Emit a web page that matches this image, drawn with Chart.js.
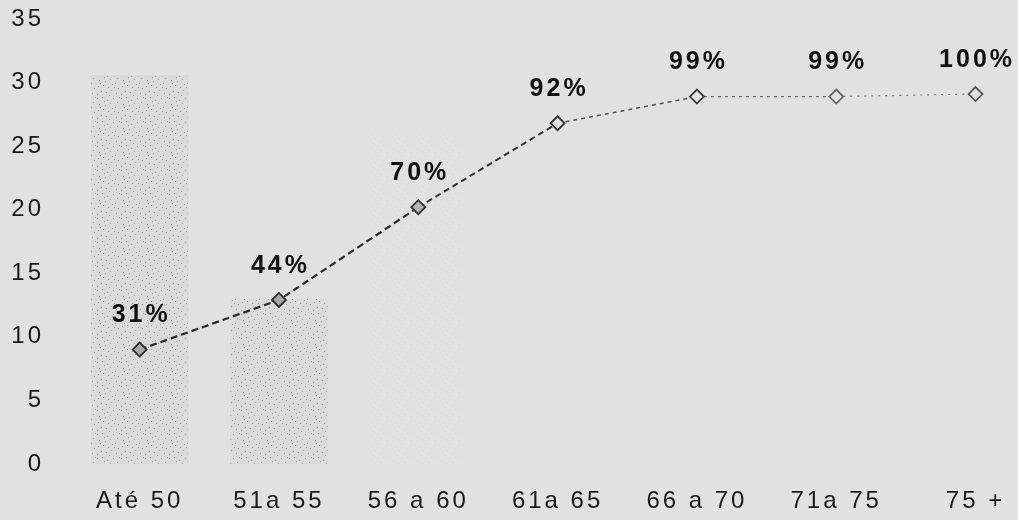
<!DOCTYPE html>
<html>
<head>
<meta charset="utf-8">
<script src="https://cdn.jsdelivr.net/npm/chart.js@4"></script>
<style>
    html, body { margin: 0; padding: 0; background: #e1e1e1; overflow: hidden; }
    #wrap { width: 1054px; height: 520px; }
</style>
</head>
<body>
<div id="wrap"><canvas id="chart" width="1054" height="520"></canvas></div>
<script>
// categories and values
const categories = ['Até 50', '51a 55', '56 a 60', '61a 65', '66 a 70', '71a 75', '75 +'];
const barValues = [30.6, 13, 26, 22, 7, 0, 1];
const lineValues = [9.0, 12.9, 20.2, 26.8, 28.9, 28.9, 29.1];
const pctLabels = ['31%', '44%', '70%', '92%', '99%', '99%', '100%'];
const yTicks = [0, 5, 10, 15, 20, 25, 30, 35];

// styles (line fades to the right, like the scan)
const segColors = ['#2a2a2a', '#2a2a2a', '#333333', '#555555', '#6a6a6a', '#7a7a7a'];
const segDashes = [[7, 4], [7, 4], [6, 4], [4, 4], [3, 4], [2, 5]];
const segWidths = [2.2, 2.2, 2, 1.6, 1.3, 1.2];
const pointFills = ['#a8a8a8', '#a8a8a8', '#b4b4b4', '#e1e1e1', '#e1e1e1', '#e1e1e1', '#e1e1e1'];
const pointBorders = ['#2a2a2a', '#2a2a2a', '#333333', '#333333', '#3a3a3a', '#666666', '#555555'];

// stippled fill for the bars
function makeStipple(base, dot, alpha) {
    const c = document.createElement('canvas');
    c.width = 24;
    c.height = 24;
    const g = c.getContext('2d');
    if (base) {
        g.fillStyle = base;
        g.fillRect(0, 0, 24, 24);
    }
    g.globalAlpha = alpha;
    g.fillStyle = dot;
    const dots = [[1,2],[6,1],[11,4],[17,2],[21,6],[3,8],[9,9],[14,7],[19,11],[2,14],
                  [7,13],[12,15],[16,12],[22,16],[5,19],[10,20],[15,18],[20,21],[1,22],[13,23],
                  [8,5],[18,15],[4,11],[23,1]];
    dots.forEach(d => g.fillRect(d[0], d[1], 1, 1));
    return g.createPattern(c, 'repeat');
}

const ctx = document.getElementById('chart').getContext('2d');
const strong = makeStipple('#dadada', '#8a8a8a', 0.7);
const faint = makeStipple(null, '#8a8a8a', 0.12);
const hidden = 'rgba(225,225,225,0)';
const barFills = [strong, strong, faint, hidden, hidden, hidden, hidden];

const spacing = {
    id: 'spacing',
    beforeUpdate(chart) { chart.ctx.letterSpacing = '3px'; },
    beforeDraw(chart) { chart.ctx.letterSpacing = '3px'; }
};

const pctPlugin = {
    id: 'pctPlugin',
    afterDatasetsDraw(chart) {
        const meta = chart.getDatasetMeta(1);
        const c = chart.ctx;
        c.save();
        c.letterSpacing = '3px';
        c.font = 'bold 25px "Liberation Sans", Arial, sans-serif';
        c.fillStyle = '#111111';
        c.textAlign = 'center';
        c.textBaseline = 'middle';
        meta.data.forEach((pt, i) => {
            c.fillText(pctLabels[i], pt.x + 1.5, pt.y - 34);
        });
        c.restore();
    }
};

new Chart(ctx, {
    data: {
        labels: categories,
        datasets: [{
            type: 'bar',
            data: barValues,
            backgroundColor: barFills,
            borderWidth: 0,
            categoryPercentage: 1,
            barPercentage: 0.7,
            order: 2
        }, {
            type: 'line',
            data: lineValues,
            borderColor: '#2a2a2a',
            borderWidth: 2,
            fill: false,
            tension: 0,
            pointStyle: 'rectRot',
            pointRadius: 7,
            pointBorderWidth: 1.8,
            pointBackgroundColor: pointFills,
            pointBorderColor: pointBorders,
            segment: {
                borderColor: c => segColors[c.p0DataIndex],
                borderDash: c => segDashes[c.p0DataIndex],
                borderWidth: c => segWidths[c.p0DataIndex]
            },
            order: 1
        }]
    },
    options: {
        responsive: false,
        animation: false,
        layout: { padding: { top: 19, left: 0, right: 0, bottom: 0 } },
        plugins: {
            legend: { display: false },
            tooltip: { enabled: false }
        },
        scales: {
            x: {
                offset: true,
                grid: { display: false, drawTicks: false },
                border: { display: false },
                ticks: {
                    color: '#1a1a1a',
                    padding: 23,
                    maxRotation: 0,
                    autoSkip: false,
                    font: { family: '"Liberation Sans", Arial, sans-serif', size: 24 }
                },
                afterFit(scale) {
                    scale.height = 56;
                    scale.paddingLeft = 0;
                    scale.paddingRight = 0;
                }
            },
            y: {
                min: 0,
                max: 35,
                afterBuildTicks(scale) { scale.ticks = yTicks.map(v => ({ value: v })); },
                grid: { display: false, drawTicks: false },
                border: { display: false },
                ticks: {
                    color: '#1a1a1a',
                    padding: 26,
                    font: { family: '"Liberation Sans", Arial, sans-serif', size: 24 }
                },
                afterFit(scale) {
                    scale.width = 70;
                    scale.paddingTop = 0;
                    scale.paddingBottom = 0;
                }
            }
        }
    },
    plugins: [spacing, pctPlugin]
});
</script>
</body>
</html>
